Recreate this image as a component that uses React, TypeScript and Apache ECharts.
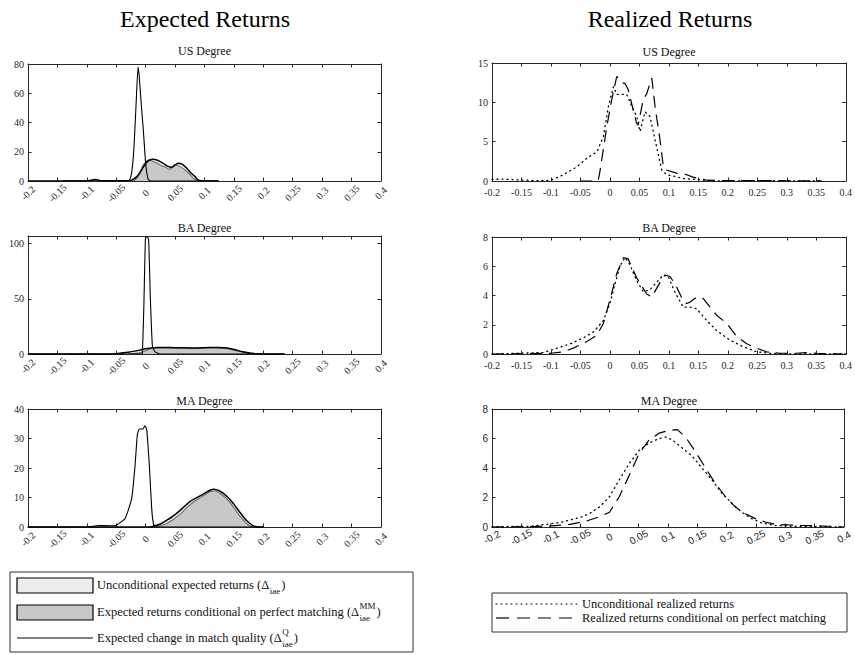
import React, { useEffect, useRef } from 'react';
import * as echarts from 'echarts';

// ---------- data ----------
const X_MIN = -0.2;
const X_MAX = 0.4;
const X_STEP = 0.05;

const panelTitles = ['US Degree', 'BA Degree', 'MA Degree', 'US Degree', 'BA Degree', 'MA Degree'];
const yMaxes = [80, 107, 40, 15, 8, 8];
const ySteps = [20, 50, 10, 5, 2, 2];

// Expected returns: US
const usExpUncond = [[-0.2,0],[-0.14,0],[-0.1,0.2],[-0.085,1.0],[-0.075,0.2],[-0.05,0.1],[-0.03,0.2],[-0.024,0.6],[-0.015,3],[-0.007,7.5],[0,12],[0.006,14.2],[0.013,14.8],[0.02,14.2],[0.03,12.1],[0.038,10],[0.044,9.4],[0.05,11],[0.0555,12.1],[0.062,11.5],[0.07,8.7],[0.077,5.5],[0.084,3],[0.09,0.5],[0.1,0],[0.124,0]];
const usExpMM = [[-0.14,0],[-0.025,0],[-0.018,0.8],[-0.01,5],[-0.004,11],[0.006,14.4],[0.015,13],[0.0244,11],[0.033,9.5],[0.041,8],[0.047,10],[0.0516,11],[0.058,10],[0.067,7.5],[0.075,4.5],[0.081,2],[0.087,0.5],[0.095,0],[0.124,0]];
const usExpQ = [[-0.14,0],[-0.05,0],[-0.028,0.3],[-0.024,5],[-0.02,22],[-0.016,55],[-0.013,78],[-0.011,72],[-0.008,55],[-0.004,35],[0,12],[0.004,1.5],[0.008,0],[0.124,0]];

// Expected returns: BA
const baExpUncond = [[-0.2,0],[-0.06,0],[-0.05,0.3],[-0.03,1.5],[-0.01,3.5],[0,4.8],[0.02,5.8],[0.04,6],[0.06,5.6],[0.08,5.5],[0.1,5.7],[0.12,6],[0.135,5.6],[0.15,4],[0.165,2],[0.18,0.6],[0.19,0.1],[0.236,0]];
const baExpMM = [[-0.03,0],[-0.01,1],[0,3],[0.01,5],[0.03,5.7],[0.05,5.5],[0.08,5.2],[0.1,5.4],[0.12,5.6],[0.14,4.8],[0.155,3],[0.17,1.2],[0.185,0.2],[0.2,0]];
const baExpQ = [[-0.2,0],[-0.007,0],[-0.0055,1],[-0.003,45],[-0.0005,104],[0.002,107],[0.005,104],[0.008,50],[0.0115,7],[0.016,2],[0.024,0],[0.236,0]];

// Expected returns: MA
const maExpUncond = [[-0.2,0],[0,0],[0.012,0.2],[0.025,1],[0.036,2.3],[0.05,4.2],[0.064,6.6],[0.075,8.6],[0.085,9.8],[0.095,10.8],[0.105,12],[0.115,12.8],[0.125,12.3],[0.137,10.6],[0.149,8],[0.16,5],[0.171,2.3],[0.183,0.4],[0.195,0],[0.2,0]];
const maExpMM = [[0.015,0],[0.03,0.7],[0.045,2.3],[0.06,4.6],[0.07,6.6],[0.08,8.3],[0.09,9.6],[0.1,10.8],[0.11,12],[0.118,12.2],[0.128,11.2],[0.138,9.5],[0.148,7],[0.16,3.8],[0.17,1.5],[0.178,0.3],[0.19,0]];
const maExpQ = [[-0.2,0],[-0.1,0],[-0.08,0.5],[-0.06,0.4],[-0.05,0.6],[-0.035,2.9],[-0.0237,9.7],[-0.018,21],[-0.0142,31.2],[-0.0108,33.2],[-0.005,33.2],[-0.0011,34.3],[0.0018,33],[0.0062,21],[0.0102,6.4],[0.013,1.3],[0.016,0],[0.2,0]];

// Realized returns
const usRealUncond = [[-0.2,0.2],[-0.18,0.25],[-0.16,0.15],[-0.14,0.1],[-0.12,0.05],[-0.1,0.1],[-0.0787,0.8],[-0.056,1.8],[-0.039,2.9],[-0.022,3.7],[-0.011,5.7],[-0.0025,9.5],[0.006,12.0],[0.0116,11],[0.0285,11],[0.037,9.5],[0.0455,8.2],[0.051,6.3],[0.0596,8.8],[0.068,8.2],[0.079,4.4],[0.088,1.4],[0.096,0.8],[0.113,0.55],[0.124,0.3],[0.147,0.2],[0.175,0],[0.25,0.05],[0.3,0.02],[0.36,0]];
const usRealMM = [[-0.05,0],[-0.02,0],[-0.017,1.2],[-0.0053,6.9],[0.003,10.3],[0.0116,13.3],[0.02,12.5],[0.0257,12.4],[0.031,11.6],[0.045,7.4],[0.048,7.1],[0.0567,10.5],[0.062,11],[0.071,13.1],[0.0765,9.5],[0.085,5.2],[0.0906,1.8],[0.096,1.4],[0.113,1.0],[0.13,0.8],[0.141,0.5],[0.164,0.1],[0.2,0.05],[0.25,0.05],[0.3,0.03],[0.36,0]];
const baRealUncond = [[-0.2,0],[-0.1125,0.1],[-0.09,0.4],[-0.067,0.7],[-0.045,1.1],[-0.028,1.5],[-0.011,2.3],[0.0003,3.5],[0.0088,4.8],[0.017,6.0],[0.0257,6.6],[0.034,6.1],[0.0455,5.0],[0.0568,4.25],[0.068,4.4],[0.079,4.9],[0.0906,5.4],[0.099,5.3],[0.11,4.25],[0.1245,3.2],[0.136,3.2],[0.147,3.1],[0.164,2.3],[0.181,1.6],[0.2035,0.95],[0.226,0.5],[0.249,0.15],[0.271,0.05],[0.316,0],[0.4,0]];
const baRealMM = [[-0.2,0],[-0.1,0.05],[-0.079,0.15],[-0.062,0.4],[-0.039,0.85],[-0.022,1.3],[-0.011,2.1],[0,3.7],[0.0116,5.5],[0.023,6.6],[0.031,6.5],[0.0455,5.2],[0.0624,4.1],[0.071,3.9],[0.085,4.9],[0.0935,5.4],[0.102,5.3],[0.113,4.6],[0.1245,3.6],[0.13,3.45],[0.136,3.55],[0.147,3.9],[0.158,3.8],[0.17,3.2],[0.181,2.65],[0.198,2.1],[0.215,1.2],[0.232,0.7],[0.249,0.4],[0.266,0.15],[0.288,0.05],[0.316,0.05],[0.333,0.1],[0.35,0.05],[0.395,0]];
const maRealUncond = [[-0.2,0.02],[-0.135,0.05],[-0.107,0.18],[-0.079,0.35],[-0.05,0.64],[-0.034,0.9],[-0.0166,1.36],[0.0003,2.05],[0.017,3.2],[0.034,4.3],[0.051,5.2],[0.068,5.7],[0.085,6.0],[0.096,6.1],[0.1076,5.9],[0.1245,5.35],[0.1414,4.8],[0.158,4.0],[0.175,3.2],[0.192,2.3],[0.209,1.6],[0.226,1.0],[0.243,0.57],[0.26,0.27],[0.2825,0.1],[0.316,0.05],[0.4,0]];
const maRealMM = [[-0.2,0],[-0.107,0.05],[-0.067,0.18],[-0.039,0.4],[-0.0166,0.7],[0.0003,1.0],[0.017,2.05],[0.034,3.5],[0.051,5.0],[0.068,5.9],[0.085,6.36],[0.102,6.55],[0.116,6.6],[0.13,6.1],[0.147,5.1],[0.164,4.0],[0.181,2.95],[0.198,2.05],[0.215,1.36],[0.232,0.9],[0.249,0.57],[0.266,0.34],[0.2825,0.18],[0.305,0.14],[0.327,0.11],[0.35,0.09],[0.373,0.05],[0.4,0]];

const expectedPanels = [
  [usExpUncond, usExpMM, usExpQ],
  [baExpUncond, baExpMM, baExpQ],
  [maExpUncond, maExpMM, maExpQ],
];
const realizedPanels = [
  [usRealUncond, usRealMM],
  [baRealUncond, baRealMM],
  [maRealUncond, maRealMM],
];

const columnTitles = ['Expected Returns', 'Realized Returns'];
const leftLegendLabels = [
  ['Unconditional expected returns (Δ', '', 'iae'],
  ['Expected returns conditional on perfect matching (Δ', 'MM', 'iae'],
  ['Expected change in match quality (Δ', 'Q', 'iae'],
];
const rightLegendLabels = ['Unconditional realized returns', 'Realized returns conditional on perfect matching'];

// ---------- layout ----------
const SERIF = '"Liberation Serif", "Times New Roman", serif';
const SANS = '"Liberation Sans", Arial, sans-serif';
const AX = '#262626';
const GRIDS = [
  { left: 28, top: 64, width: 353, height: 117 },
  { left: 28, top: 236, width: 353, height: 118 },
  { left: 28, top: 409, width: 353, height: 118 },
  { left: 492, top: 63, width: 354, height: 118 },
  { left: 492, top: 237, width: 354, height: 117 },
  { left: 492, top: 409, width: 354, height: 118 },
];
const TITLE_Y = [51, 228, 401, 52, 228, 401];
const ROTATE = [45, 45, 45, 0, 0, 28];
const LABEL_MARGIN = [12, 12, 12, 6, 6, 10];
const LABEL_FONT = [SERIF, SERIF, SERIF, SERIF, SERIF, SANS];

function measure(text: string, font: string): number {
  const c = document.createElement('canvas').getContext('2d');
  if (!c) return text.length * 5;
  c.font = font;
  return c.measureText(text).width;
}

function buildOption() {
  const xAxis: any[] = [];
  const yAxis: any[] = [];
  const series: any[] = [];
  const graphic: any[] = [];

  GRIDS.forEach((g, i) => {
    const tick = { show: true, inside: true, length: 3.5, lineStyle: { color: AX, width: 1 } };
    const line = { show: true, onZero: false, lineStyle: { color: AX, width: 1 } };
    const rotated = ROTATE[i] !== 0;
    xAxis.push({
      type: 'value', gridIndex: i, min: X_MIN, max: X_MAX, interval: X_STEP, position: 'bottom',
      axisLine: line, axisTick: tick, splitLine: { show: false },
      axisLabel: {
        show: true, rotate: ROTATE[i], margin: LABEL_MARGIN[i], interval: 0,
        align: rotated ? 'center' : undefined, verticalAlign: rotated ? 'middle' : undefined,
        fontSize: 10, fontFamily: LABEL_FONT[i], color: AX, showMinLabel: true, showMaxLabel: true, hideOverlap: false,
      },
    });
    xAxis.push({
      type: 'value', gridIndex: i, min: X_MIN, max: X_MAX, interval: X_STEP, position: 'top',
      axisLine: line, axisTick: tick, splitLine: { show: false }, axisLabel: { show: false },
    });
    const step = ySteps[i];
    yAxis.push({
      type: 'value', gridIndex: i, min: 0, max: yMaxes[i], interval: step, position: 'left',
      axisLine: line, axisTick: tick, splitLine: { show: false },
      axisLabel: {
        show: true, margin: 4, fontSize: 10, fontFamily: LABEL_FONT[i], color: AX,
        formatter: (v: number) => (Math.abs(v / step - Math.round(v / step)) < 1e-6 ? String(v) : ''),
      },
    });
    yAxis.push({
      type: 'value', gridIndex: i, min: 0, max: yMaxes[i], interval: step, position: 'right',
      axisLine: line, axisTick: tick, splitLine: { show: false }, axisLabel: { show: false },
    });

    graphic.push({
      type: 'text', x: g.left + g.width / 2, y: TITLE_Y[i],
      style: { text: panelTitles[i], font: `12px ${SERIF}`, fill: '#111', align: 'center', verticalAlign: 'middle', textAlign: 'center', textVerticalAlign: 'middle' },
    });
  });

  const base = { type: 'line', symbol: 'none', showSymbol: false, animation: false };
  expectedPanels.forEach(([unc, mm, q], p) => {
    const ax = { xAxisIndex: 2 * p, yAxisIndex: 2 * p };
    series.push({ ...base, ...ax, name: 'unc-area', data: unc, smooth: 0.25, lineStyle: { width: 0, opacity: 0 }, areaStyle: { color: '#ececec', opacity: 1 }, z: 2 });
    series.push({ ...base, ...ax, name: 'mm', data: mm, smooth: 0.25, lineStyle: { color: '#6a6a6a', width: 1.1 }, areaStyle: { color: '#c8c8c8', opacity: 1 }, z: 3 });
    series.push({ ...base, ...ax, name: 'unc-line', data: unc, smooth: 0.25, lineStyle: { color: '#000', width: 1.5 }, z: 4 });
    series.push({ ...base, ...ax, name: 'q', data: q, smooth: 0.15, lineStyle: { color: '#000', width: 1.1 }, z: 5 });
  });
  realizedPanels.forEach(([unc, mm], p) => {
    const ax = { xAxisIndex: 2 * (p + 3), yAxisIndex: 2 * (p + 3) };
    series.push({ ...base, ...ax, name: 'real-unc', data: unc, lineStyle: { color: '#000', width: 1.3, type: [1, 4], cap: 'round' }, z: 4 });
    series.push({ ...base, ...ax, name: 'real-mm', data: mm, lineStyle: { color: '#000', width: 1.2, type: [12, 7] }, z: 5 });
  });

  // column titles
  const bigFont = `24px ${SERIF}`;
  graphic.push({ type: 'text', x: 205, y: 19, style: { text: columnTitles[0], font: bigFont, fill: '#000', align: 'center', verticalAlign: 'middle', textAlign: 'center', textVerticalAlign: 'middle' } });
  graphic.push({ type: 'text', x: 670, y: 19, style: { text: columnTitles[1], font: bigFont, fill: '#000', align: 'center', verticalAlign: 'middle', textAlign: 'center', textVerticalAlign: 'middle' } });

  // left legend
  graphic.push({ type: 'rect', shape: { x: 10, y: 572, width: 403, height: 80 }, style: { fill: '#fff', stroke: '#333', lineWidth: 1 }, z: 10 });
  graphic.push({ type: 'rect', shape: { x: 17, y: 578, width: 76, height: 15 }, style: { fill: '#ececec', stroke: '#000', lineWidth: 1.2 }, z: 11 });
  graphic.push({ type: 'rect', shape: { x: 17, y: 605, width: 76, height: 15 }, style: { fill: '#c8c8c8', stroke: '#000', lineWidth: 1.2 }, z: 11 });
  graphic.push({ type: 'line', shape: { x1: 17, y1: 638, x2: 93, y2: 638 }, style: { stroke: '#000', lineWidth: 1 }, z: 11 });
  const mainFont = `12.5px ${SERIF}`;
  const smallFont = `9px ${SERIF}`;
  const rowY = [585, 612, 638];
  leftLegendLabels.forEach(([main, sup, sub], r) => {
    const x0 = 97;
    const y = rowY[r];
    const w = measure(main, mainFont);
    const ws = Math.max(measure(sup, smallFont), measure(sub, smallFont));
    graphic.push({ type: 'text', x: x0, y, z: 12, style: { text: main, font: mainFont, fill: '#111', align: 'left', verticalAlign: 'middle', textAlign: 'left', textVerticalAlign: 'middle' } });
    if (sup) graphic.push({ type: 'text', x: x0 + w + 0.5, y: y - 6, z: 12, style: { text: sup, font: smallFont, fill: '#111', align: 'left', verticalAlign: 'middle', textAlign: 'left', textVerticalAlign: 'middle' } });
    graphic.push({ type: 'text', x: x0 + w + 0.5, y: y + 6, z: 12, style: { text: sub, font: smallFont, fill: '#111', align: 'left', verticalAlign: 'middle', textAlign: 'left', textVerticalAlign: 'middle' } });
    graphic.push({ type: 'text', x: x0 + w + ws + 1.5, y, z: 12, style: { text: ')', font: mainFont, fill: '#111', align: 'left', verticalAlign: 'middle', textAlign: 'left', textVerticalAlign: 'middle' } });
  });

  // right legend
  graphic.push({ type: 'rect', shape: { x: 492, y: 593, width: 355, height: 39 }, style: { fill: '#fff', stroke: '#333', lineWidth: 1 }, z: 10 });
  graphic.push({ type: 'line', shape: { x1: 496, y1: 604, x2: 577, y2: 604 }, style: { stroke: '#000', lineWidth: 1.2, lineDash: [1, 4], lineCap: 'round' }, z: 11 });
  graphic.push({ type: 'line', shape: { x1: 496, y1: 618, x2: 577, y2: 618 }, style: { stroke: '#000', lineWidth: 1.2, lineDash: [13, 8] }, z: 11 });
  rightLegendLabels.forEach((t, r) => {
    graphic.push({ type: 'text', x: 582, y: r === 0 ? 604 : 618, z: 12, style: { text: t, font: mainFont, fill: '#111', align: 'left', verticalAlign: 'middle', textAlign: 'left', textVerticalAlign: 'middle' } });
  });

  return {
    animation: false,
    backgroundColor: '#fff',
    grid: GRIDS.map((g) => ({ ...g, containLabel: false })),
    xAxis,
    yAxis,
    series,
    graphic,
  };
}

export default function App() {
  const ref = useRef<HTMLDivElement>(null);
  useEffect(() => {
    if (!ref.current) return;
    const chart = echarts.init(ref.current, undefined, { renderer: 'svg' });
    chart.setOption(buildOption() as any);
    return () => chart.dispose();
  }, []);
  return <div ref={ref} style={{ position: 'fixed', left: 0, top: 0, width: 855, height: 655, background: '#fff' }} />;
}
